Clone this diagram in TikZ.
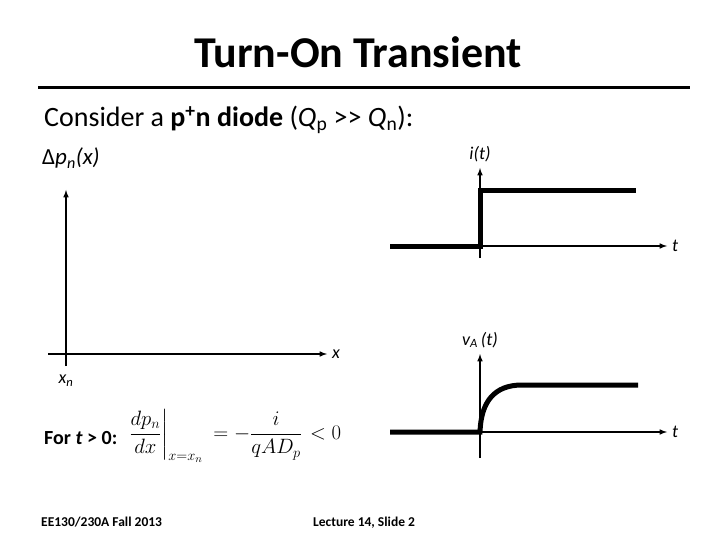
\documentclass[tikz,border=0pt]{standalone}
\usepackage{amsmath}
\usepackage{fontspec}
\setmainfont{Carlito}
\usetikzlibrary{arrows,positioning,calc}

\begin{document}
\begin{tikzpicture}[
    x=1pt, y=-1pt,
    lbl/.style={inner sep=0pt, font=\fontsize{18}{20}\selectfont\itshape},
    axis/.style={line width=1.5pt, -latex},
    wave/.style={line width=5pt}
]
\useasboundingbox (0,0) rectangle (720,540);

% title and rule
\node[inner sep=0pt, font=\fontsize{44}{50}\selectfont\bfseries] (title) at (358,52) {Turn-On Transient};
\coordinate (rule_l) at (38,88);
\coordinate (rule_r) at (690,88);
\draw[line width=3pt] (rule_l) -- (rule_r);

\node[inner sep=0pt, anchor=base west, font=\fontsize{28}{32}\selectfont] (consider) at (44,127)
    {Consider a \textbf{p\textsuperscript{+}n diode} (\textit{Q}\textsubscript{p} >\kern0pt> \textit{Q}\textsubscript{n}):};

% Delta p_n(x) axes
\node[lbl, anchor=base west, font=\fontsize{23}{26}\selectfont\itshape] (dp_lbl) at (42,165)
    {\upshape Δ\itshape p\textsubscript{\textit{n}}(x)};
\coordinate (dp_top) at (66,190);
\coordinate (dp_bot) at (66,366);
\coordinate (x_left) at (48,354);
\coordinate (x_right) at (327,354);
\draw[axis] (dp_bot) -- (dp_top);
\draw[axis] (x_left) -- (x_right);
\node[lbl, right=5pt of x_right] (x_lbl) {x};
\node[lbl, below=9pt of dp_bot] (xn_lbl) {x\textsubscript{\textit{n}}};

% i(t)
\coordinate (i_top) at (480,168);
\coordinate (i_bot) at (480,258);
\coordinate (i_left) at (480,246);
\coordinate (i_right) at (667,246);
\draw[axis] (i_bot) -- (i_top);
\draw[axis] (i_left) -- (i_right);
\node[lbl, above=6pt of i_top] (i_lbl) {i(\textit{t})};
\node[lbl, right=5pt of i_right] (ti_lbl) {t};
\coordinate (i0) at (390,246);
\coordinate (i1) at (480,246);
\coordinate (i2) at (480,191);
\coordinate (i3) at (636,191);
\draw[wave, line join=miter] (i0) -- (i1) -- (i2) -- (i3);

% v_A(t)
\coordinate (v_top) at (480,354);
\coordinate (v_bot) at (480,458);
\coordinate (v_left) at (480,432);
\coordinate (v_right) at (667,432);
\draw[axis] (v_bot) -- (v_top);
\draw[axis] (v_left) -- (v_right);
\node[lbl, above=6pt of v_top] (v_lbl) {v\textsubscript{\textit{A}}\,(\textit{t})};
\node[lbl, right=5pt of v_right] (tv_lbl) {t};
\coordinate (v0) at (390,432);
\coordinate (v1) at (480,432);
\coordinate (v2) at (522,385);
\coordinate (v3) at (638,385);
\draw[wave] (v0) -- (v1) .. controls (481,402) and (494,385) .. (v2) -- (v3);

% gradient condition
\node[inner sep=0pt, anchor=base west, font=\fontsize{20}{24}\selectfont\bfseries] (for_t) at (44,444)
    {For \textit{t} > 0:};
\node[inner sep=0pt, anchor=west, font=\fontsize{22}{26}\selectfont] (grad) at (128,436)
    {$\displaystyle \left.\frac{dp_n}{dx}\right|_{x=x_n} \mkern4mu= -\frac{i}{qAD_p} \mkern2mu< 0$};

% footer
\node[inner sep=0pt, anchor=base west, font=\fontsize{13.5}{16}\selectfont\bfseries] (foot_l) at (41,526) {EE130/230A Fall 2013};
\node[inner sep=0pt, anchor=base west, font=\fontsize{13.5}{16}\selectfont\bfseries] (foot_r) at (313,526) {Lecture 14, Slide 2};
\end{tikzpicture}
\end{document}
